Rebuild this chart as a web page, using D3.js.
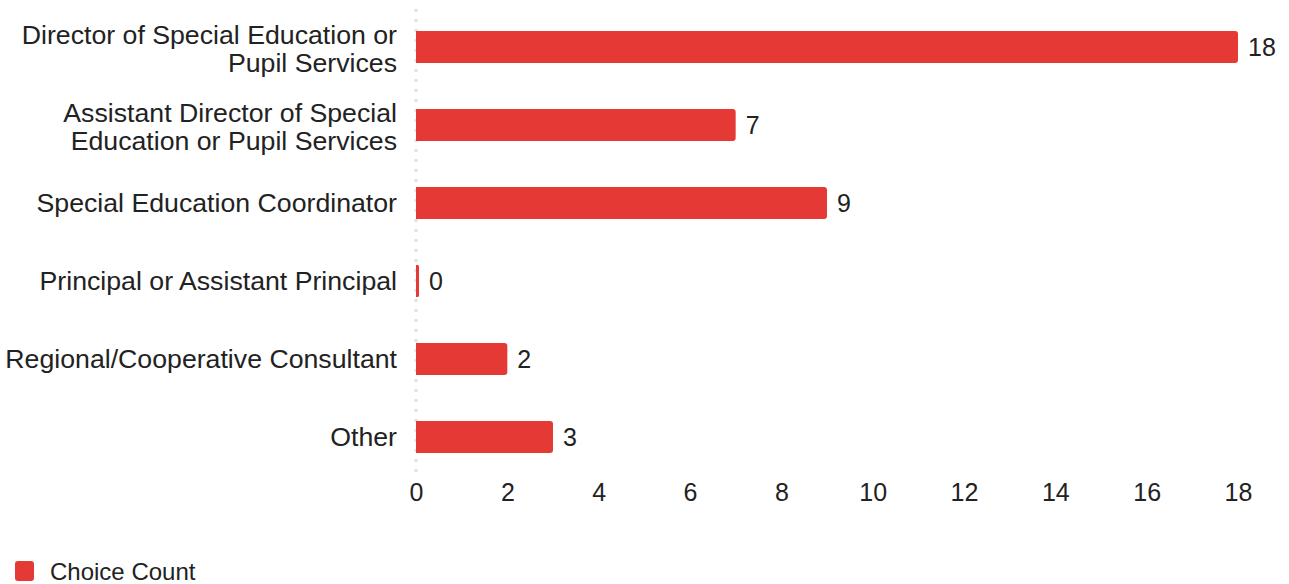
<!DOCTYPE html>
<html>
<head>
<meta charset="utf-8">
<script src="https://cdn.jsdelivr.net/npm/d3@7"></script>
<style>
  html, body { margin: 0; padding: 0; background: #fff; }
  svg { display: block; font-family: "Liberation Sans", Arial, sans-serif; }
</style>
</head>
<body>
<svg id="chart" width="1289" height="584"></svg>
<script>
// Survey respondents' roles and how many chose each
const categories = [
  ["Director of Special Education or", "Pupil Services"],
  ["Assistant Director of Special", "Education or Pupil Services"],
  ["Special Education Coordinator"],
  ["Principal or Assistant Principal"],
  ["Regional/Cooperative Consultant"],
  ["Other"]
];
const choiceCount = [18, 7, 9, 0, 2, 3];
const xTicks = [0, 2, 4, 6, 8, 10, 12, 14, 16, 18];
const seriesName = "Choice Count";

const svg = d3.select("#chart");
const barColor = "#e53935";
const textColor = "#222222";

const x = d3.scaleLinear().domain([0, 18]).range([416, 1238]);
const y = d3.scaleBand()
  .domain(d3.range(categories.length))
  .range([8, 476])
  .paddingInner(0.59)
  .paddingOuter(0.295);

// dotted baseline at zero
svg.append("line")
  .attr("x1", x(0)).attr("x2", x(0))
  .attr("y1", 9).attr("y2", 476)
  .attr("stroke", "#e0e0e0")
  .attr("stroke-width", 3)
  .attr("stroke-dasharray", "3,7");

// bars with rounded right end
const minW = 3, r = 3;
function barPath(i) {
  const x0 = x(0), w = Math.max(minW, x(choiceCount[i]) - x0);
  const y0 = y(i), h = y.bandwidth();
  const rr = Math.min(r, w / 2);
  return `M${x0},${y0}H${x0 + w - rr}Q${x0 + w},${y0} ${x0 + w},${y0 + rr}` +
         `V${y0 + h - rr}Q${x0 + w},${y0 + h} ${x0 + w - rr},${y0 + h}H${x0}Z`;
}
svg.append("g").selectAll("path")
  .data(choiceCount)
  .join("path")
  .attr("d", (d, i) => barPath(i))
  .attr("fill", barColor);

// value labels
svg.append("g").selectAll("text")
  .data(choiceCount)
  .join("text")
  .attr("x", (d, i) => Math.max(x(0) + minW, x(d)) + 10)
  .attr("y", (d, i) => y(i) + y.bandwidth() / 2)
  .attr("dy", "0.35em")
  .attr("font-size", 25)
  .attr("fill", textColor)
  .text(d => d);

// category labels
const lineH = 28;
const labels = svg.append("g").selectAll("text")
  .data(categories)
  .join("text")
  .attr("text-anchor", "end")
  .attr("font-size", 26.7)
  .attr("fill", textColor)
  .attr("x", 397)
  .attr("y", (d, i) => y(i) + y.bandwidth() / 2 - (d.length - 1) * lineH / 2 + (d.length - 1) * 2);
labels.selectAll("tspan")
  .data(d => d)
  .join("tspan")
  .attr("x", 397)
  .attr("dy", (d, j) => j === 0 ? "0.35em" : lineH)
  .text(d => d);

// x axis tick labels
const xAxis = d3.axisBottom(x).tickValues(xTicks).tickSize(0).tickPadding(0);
const gx = svg.append("g").attr("transform", "translate(0,483)").call(xAxis);
gx.select(".domain").remove();
gx.selectAll("text")
  .attr("font-size", 25)
  .attr("font-family", "Liberation Sans, Arial, sans-serif")
  .attr("fill", textColor)
  .attr("dy", "0.71em");

// legend
const legend = svg.append("g").attr("transform", "translate(15,561)");
legend.append("rect")
  .attr("width", 19).attr("height", 20).attr("rx", 3)
  .attr("fill", barColor);
legend.append("text")
  .attr("x", 35).attr("y", 11).attr("dy", "0.35em")
  .attr("font-size", 24)
  .attr("fill", textColor)
  .text(seriesName);
</script>
</body>
</html>
